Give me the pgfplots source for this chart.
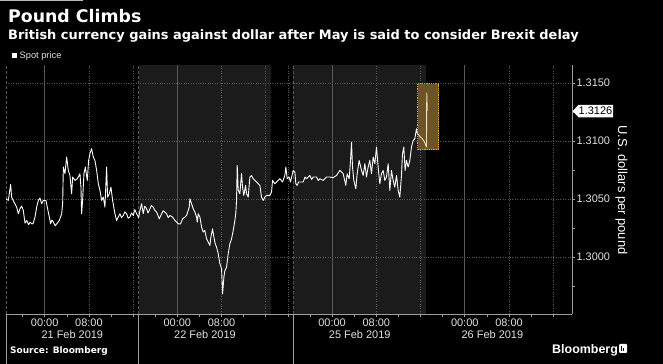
\documentclass[border=0pt]{standalone}
\usepackage{pgfplots}
\pgfplotsset{compat=1.18}
\usepackage{fontspec}
\setmainfont{Liberation Sans}
\newfontfamily\wide{DejaVu Sans}
\definecolor{shadebg}{RGB}{27,27,27}
\definecolor{gridc}{RGB}{88,88,88}
\definecolor{axisc}{RGB}{160,160,160}
\definecolor{ticktxt}{RGB}{225,225,225}
\definecolor{hlfill}{RGB}{108,84,40}
\definecolor{hlborder}{RGB}{225,165,60}
\definecolor{hlline}{RGB}{245,222,175}
\begin{document}
\begin{tikzpicture}
\fill[black] (0,0) rectangle (663bp,364bp);
\useasboundingbox (0,0) rectangle (663bp,364bp);
\fill[gray!55] (0,362.8bp) rectangle (83bp,364bp);
% titles
\node[anchor=base west, inner sep=0, text=white, font=\wide\fontsize{17.4}{20}\selectfont\bfseries] at (8bp,341.3bp) {Pound Climbs};
\node[anchor=base west, inner sep=0, text=white, font=\wide\fontsize{13}{15}\selectfont\bfseries] at (8bp,324bp) {British currency gains against dollar after May is said to consider Brexit delay};
% legend
\fill[white] (11.5bp,305.5bp) rectangle (17bp,311bp);
\node[anchor=base west, inner sep=0, text=ticktxt, font=\fontsize{9.3}{10}\selectfont] at (19.5bp,305.5bp) {Spot price};
\begin{axis}[
  at={(6bp,50bp)}, anchor=south west,
  scale only axis, width=566bp, height=249bp,
  xmin=0, xmax=102.4, ymin=1.29509, ymax=1.31653,
  clip=false,
  axis line style={draw=none},
  tick align=outside,
  xtick pos=bottom, ytick pos=right,
  yticklabel pos=right,
  major tick length=3bp, minor tick length=2.5bp,
  tick style={draw=axisc, line width=0.6bp},
  xtick={7,15,31,39,59,67,83,91},
  xticklabels={00:00,08:00,00:00,08:00,00:00,08:00,00:00,08:00},
  minor xtick={3,11,19,23,27,35,43,47,51,55,63,71,75,79,87,95,99},
  ytick={1.300,1.305,1.310,1.315},
  minor ytick={1.2975,1.3025,1.3075,1.3125},
  /pgf/number format/assume math mode=true,
  yticklabel style={/pgf/number format/fixed, /pgf/number format/fixed zerofill, /pgf/number format/precision=4, font=\fontsize{11}{12}\selectfont, text=ticktxt, anchor=west, xshift=-2bp},
  xticklabel style={font=\fontsize{11}{12}\selectfont, text=ticktxt, anchor=north, yshift=2bp},
]
% shaded day bands
\fill[shadebg] (axis cs:24,1.29509) rectangle (axis cs:48,1.31653);
\fill[shadebg] (axis cs:52,1.29509) rectangle (axis cs:76,1.31653);
% grid
\pgfplotsinvokeforeach{1.300,1.305,1.310,1.315}{\draw[gridc, line width=0.6bp, dash pattern=on 1bp off 1.4bp] (axis cs:0,#1) -- (axis cs:102.4,#1);}
\pgfplotsinvokeforeach{7,31,59,83}{\draw[gridc, line width=0.7bp] (axis cs:#1,1.29509) -- (axis cs:#1,1.31653);}
\pgfplotsinvokeforeach{15,23,39,47,51,67,75,91,99}{\draw[gridc, line width=0.6bp, dash pattern=on 1bp off 1.4bp] (axis cs:#1,1.29509) -- (axis cs:#1,1.31653);}
\pgfplotsinvokeforeach{0,24,52}{\draw[gridc, line width=0.7bp, dash pattern=on 3bp off 2bp] (axis cs:#1,1.29509) -- (axis cs:#1,1.31653);}
% axis lines
\draw[axisc, line width=0.7bp] (axis cs:0,1.29509) -- (axis cs:102.4,1.29509);
\draw[axisc, line width=0.7bp] (axis cs:102.4,1.29509) -- (axis cs:102.4,1.31653);
\pgfplotsinvokeforeach{0,24,52}{\draw[axisc, line width=0.7bp] (axis cs:#1,1.29509) -- ++(0,-27.5bp);}
% date labels
\node[text=ticktxt, font=\fontsize{11}{12}\selectfont] at (axis cs:12,1.29509) [yshift=-20.8bp] {21 Feb 2019};
\node[text=ticktxt, font=\fontsize{11}{12}\selectfont] at (axis cs:36,1.29509) [yshift=-20.8bp] {22 Feb 2019};
\node[text=ticktxt, font=\fontsize{11}{12}\selectfont] at (axis cs:64,1.29509) [yshift=-20.8bp] {25 Feb 2019};
\node[text=ticktxt, font=\fontsize{11}{12}\selectfont] at (axis cs:88,1.29509) [yshift=-20.8bp] {26 Feb 2019};
% spot price
\addplot[white, line width=0.9bp, line join=round, mark=none] coordinates {
(0,1.30503) (0.42,1.30489) (0.84,1.30626) (1.02,1.30517) (1.45,1.30474) (1.93,1.30431) (2.23,1.30374) (2.53,1.30417) (2.83,1.30440) (3.13,1.30402) (3.44,1.30293) (3.74,1.30316) (4.1,1.30280) (4.34,1.30302) (4.7,1.30285) (4.94,1.30293) (5.24,1.30345) (5.55,1.30431) (5.85,1.30489) (6.15,1.30509) (6.45,1.30460) (6.75,1.30489) (7.23,1.30489) (7.47,1.30431) (7.84,1.30345) (8.08,1.30287) (8.3,1.30320) (8.56,1.30302) (8.9,1.30270) (9.16,1.30287) (9.4,1.30300) (9.64,1.30316) (10.07,1.30374) (10.25,1.30460) (10.37,1.30776) (10.67,1.30718) (10.97,1.30862) (11.27,1.30747) (11.57,1.30704) (11.87,1.30546) (12.06,1.30690) (12.48,1.30661) (12.90,1.30675) (13.38,1.30718) (13.56,1.30603) (13.68,1.30374) (13.86,1.30489) (14.10,1.30718) (14.35,1.30776) (14.71,1.30661) (14.95,1.30833) (15.19,1.30891) (15.49,1.30934) (15.79,1.30862) (16.09,1.30833) (16.40,1.30747) (16.70,1.30632) (17.00,1.30575) (17.30,1.30489) (17.60,1.30517) (17.90,1.30431) (18.20,1.30776) (18.38,1.30517) (18.69,1.30546) (18.99,1.30603) (19.29,1.30489) (19.71,1.30374) (20.01,1.30316) (20.31,1.30345) (20.61,1.30374) (20.9,1.30340) (21.22,1.30359) (21.5,1.30390) (21.82,1.30374) (22.1,1.30335) (22.42,1.30345) (22.7,1.30380) (23.03,1.30359) (23.3,1.30410) (23.63,1.30374) (24.0,1.30340) (24.23,1.30402) (24.53,1.30460) (24.83,1.30374) (25.1,1.30440) (25.44,1.30417) (25.7,1.30380) (26.04,1.30417) (26.3,1.30445) (26.64,1.30431) (26.94,1.30402) (27.25,1.30388) (27.73,1.30330) (28.15,1.30374) (28.45,1.30400) (28.75,1.30388) (29.05,1.30374) (29.35,1.30340) (29.66,1.30359) (30.14,1.30345) (30.56,1.30316) (31.16,1.30287) (31.59,1.30287) (31.95,1.30330) (32.37,1.30345) (32.67,1.30359) (33.15,1.30431)
(33.27,1.30503) (33.57,1.30460) (33.87,1.30417) (34.18,1.30388) (34.48,1.30345) (34.60,1.30302) (34.78,1.30374) (35.08,1.30345) (35.38,1.30259) (35.68,1.30216) (35.98,1.30230) (36.28,1.30158) (36.59,1.30130) (36.89,1.30101) (37.07,1.30173) (37.37,1.30244) (37.61,1.30173) (37.85,1.30115) (38.09,1.30087) (38.40,1.30029) (38.70,1.29943) (39.00,1.29900) (39.18,1.29684) (39.42,1.29828) (39.60,1.29885) (39.90,1.29914) (40.20,1.30029) (40.50,1.30115) (40.81,1.30158) (41.11,1.30230) (41.41,1.30316) (41.59,1.30388) (41.71,1.30489) (41.83,1.30790) (42.01,1.30575) (42.31,1.30546) (42.61,1.30719) (42.79,1.30604) (43.03,1.30532) (43.34,1.30618) (43.52,1.30546) (43.82,1.30517) (44.12,1.30690) (44.42,1.30704) (44.72,1.30676) (45.02,1.30661) (45.33,1.30647) (45.63,1.30632) (45.93,1.30618) (46.23,1.30517) (46.53,1.30489) (46.83,1.30517) (47.13,1.30532) (47.74,1.30532) (48.04,1.30560) (48.22,1.30661) (48.64,1.30632) (48.94,1.30647) (49.24,1.30661) (49.54,1.30676) (50.03,1.30647) (50.45,1.30704) (50.63,1.30776) (50.87,1.30676) (51.23,1.30690) (51.47,1.30647) (51.95,1.30747) (52.26,1.30733) (52.44,1.30632) (52.68,1.30618) (52.92,1.30647) (53.16,1.30647)
(53.77,1.30647) (54.1,1.30690) (54.37,1.30675) (54.97,1.30704) (55.3,1.30670) (55.58,1.30690) (56.18,1.30690) (56.5,1.30660) (56.78,1.30675) (57.38,1.30661) (57.99,1.30690) (58.59,1.30690)
(59.19,1.30684) (59.80,1.30704) (60.40,1.30747) (61.00,1.30718) (61.48,1.30618) (61.72,1.30718) (62.09,1.30675) (62.33,1.30833) (62.51,1.30991) (62.69,1.30776) (62.93,1.30661) (63.29,1.30589) (63.53,1.30718) (63.89,1.30833) (64.32,1.30747) (64.62,1.30704) (64.92,1.30805) (65.22,1.30690) (65.52,1.30776) (65.82,1.30833) (66.12,1.30718) (66.43,1.30862) (66.73,1.30805) (67.03,1.30948) (67.33,1.30776) (67.63,1.30632) (67.93,1.30718) (68.23,1.30747) (68.54,1.30661) (68.84,1.30690) (69.14,1.30805) (69.44,1.30575) (69.74,1.30747) (70.04,1.30661) (70.34,1.30603) (70.65,1.30704) (70.95,1.30575) (71.25,1.30517) (71.55,1.30704) (71.73,1.30891) (71.97,1.30948) (72.21,1.30747) (72.45,1.30833) (72.76,1.30776) (73.06,1.30833) (73.36,1.30948) (73.66,1.31005) (73.96,1.31019) (74.26,1.31106) (74.44,1.31064)
};
% highlight box
\fill[hlfill] (axis cs:74.5,1.30926) rectangle (axis cs:78.3,1.31495);
\draw[hlborder, line width=0.9bp, dash pattern=on 0.9bp off 0.9bp] (axis cs:74.5,1.30926) rectangle (axis cs:78.3,1.31495);
\addplot[hlline, line width=0.9bp, line join=round, mark=none] coordinates {
(74.44,1.31064) (74.74,1.31048) (74.99,1.31034) (75.35,1.31019) (75.71,1.30991) (76.07,1.30948) (76.12,1.31414) (76.22,1.31259)
};
\end{axis}
% last price tag
\fill[white] (572.7bp,253bp) -- (578.5bp,259.2bp) -- (613bp,259.2bp) -- (613bp,246.7bp) -- (578.5bp,246.7bp) -- cycle;
\node[text=black, inner sep=0, font=\fontsize{11}{12}\selectfont] at (595.5bp,253bp) {1.3126};
% y label
\node[rotate=-90, text=white, inner sep=0, font=\fontsize{13}{15}\selectfont] at (621.5bp,174bp) {U.S. dollars per pound};
% source and logo
\node[anchor=base west, inner sep=0, text=white, font=\wide\fontsize{9}{11}\selectfont\bfseries] at (10bp,10.5bp) {Source: Bloomberg};
\node[anchor=base west, inner sep=0, text=white, font=\fontsize{12.5}{14}\selectfont\bfseries] at (552bp,10.5bp) {Bloomberg};
\fill[white, rounded corners=1bp] (619bp,11bp) rectangle (627bp,20bp);
\fill[black] (621.2bp,12.5bp) rectangle (622.2bp,18bp);
\fill[black] (623.4bp,12.5bp) rectangle (624.4bp,16bp);
\end{tikzpicture}
\end{document}
